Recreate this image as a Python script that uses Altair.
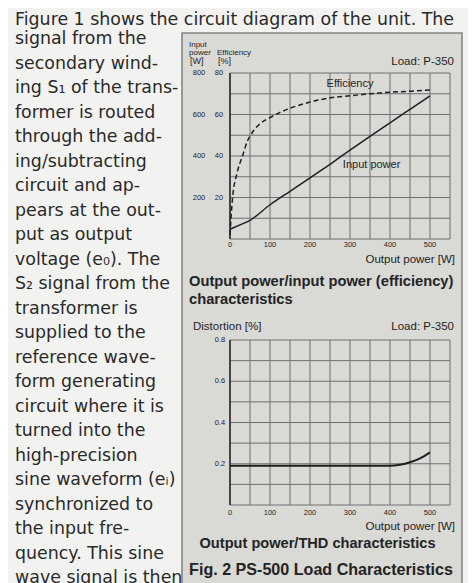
import altair as alt
import pandas as pd

# ---------------- data ----------------
# Output power / efficiency (dashed)
eff_out = [0, 6, 18, 33, 44, 50, 60, 75, 100, 125, 150, 200, 250, 300, 350, 400, 450, 500]
eff_pct = [2, 19, 32, 41, 47.5, 49.5, 52.5, 55.5, 58.5, 61, 63, 66, 68, 69, 70, 70.7, 71.2, 71.8]
# Output power / input power (solid)
in_out = [0, 25, 50, 100, 150, 200, 250, 300, 350, 400, 450, 500]
in_w = [47, 68, 90, 165, 230, 294, 360, 428, 495, 560, 625, 690]
# Output power / THD
thd_out = [0, 100, 200, 300, 400, 425, 450, 475, 500]
thd_pct = [0.19, 0.19, 0.19, 0.19, 0.19, 0.195, 0.207, 0.226, 0.255]

x_ticks = [0, 100, 200, 300, 400, 500]
x_grid = [0, 50, 100, 150, 200, 250, 300, 350, 400, 450, 500, 550]
w_ticks = [200, 400, 600, 800]
e_ticks = [20, 40, 60, 80]
w_grid = [0, 100, 200, 300, 400, 500, 600, 700, 800]
d_ticks = [0.2, 0.4, 0.6, 0.8]
d_grid = [0, 0.1, 0.2, 0.3, 0.4, 0.5, 0.6, 0.7, 0.8]

first_line = "Figure 1 shows the circuit diagram of the unit. The"
body_lines = [
    "signal from the", "secondary wind-", "ing S\u2081 of the trans-", "former is routed",
    "through the add-", "ing/subtracting", "circuit and ap-", "pears at the out-",
    "put as output", "voltage (e\u2080). The", "S\u2082 signal from the", "transformer is",
    "supplied to the", "reference wave-", "form generating", "circuit where it is",
    "turned into the", "high-precision", "sine waveform (e\u1d62)", "synchronized to",
    "the input fre-", "quency. This sine", "wave signal is then",
]

# ---------------- scales ----------------
xs = alt.Scale(domain=[0, 550], range=[222, 442], nice=False, zero=False)
y1 = alt.Scale(domain=[0, 800], range=[231, 65], nice=False, zero=False)
ye = alt.Scale(domain=[0, 80], range=[231, 65], nice=False, zero=False)
y2 = alt.Scale(domain=[0, 0.8], range=[497, 332], nice=False, zero=False)

GRID = "#6f6f6f"
INK = "#242424"
SANS = "Liberation Sans"
one = pd.DataFrame({"a": [0]})


def X(f="x"):
    return alt.X(f + ":Q", scale=xs, axis=None)


layers = []

# page box
layers.append(alt.Chart(one).mark_rect(fill="#d9d9d6", stroke="#858585", strokeWidth=1.6).encode(
    x=alt.value(174), x2=alt.value(454), y=alt.value(25), y2=alt.value(580)))

# ---- grids ----
for ysc, grid, lo, hi in [(y1, w_grid, 0, 800), (y2, d_grid, 0, 0.8)]:
    vdf = pd.DataFrame({"x": x_grid, "lo": [lo] * len(x_grid), "hi": [hi] * len(x_grid)})
    layers.append(alt.Chart(vdf).mark_rule(color=GRID, strokeWidth=1).encode(
        x=X(), y=alt.Y("lo:Q", scale=ysc, axis=None), y2="hi:Q"))
    hdf = pd.DataFrame({"y": grid, "lo": [0] * len(grid), "hi": [550] * len(grid)})
    layers.append(alt.Chart(hdf).mark_rule(color=GRID, strokeWidth=1).encode(
        y=alt.Y("y:Q", scale=ysc, axis=None), x=X("lo"), x2="hi:Q"))
    adf = pd.DataFrame({"x": [0], "lo": [lo], "hi": [hi]})
    layers.append(alt.Chart(adf).mark_rule(color="#2e2e2e", strokeWidth=1.6).encode(
        x=X(), y=alt.Y("lo:Q", scale=ysc, axis=None), y2="hi:Q"))

# ---- data lines ----
df_in = pd.DataFrame({"x": in_out, "y": in_w})
layers.append(alt.Chart(df_in).mark_line(color="#1e1e1e", strokeWidth=1.5, interpolate="monotone").encode(
    x=X(), y=alt.Y("y:Q", scale=y1, axis=None)))
df_eff = pd.DataFrame({"x": eff_out, "y": eff_pct})
layers.append(alt.Chart(df_eff).mark_line(color="#1e1e1e", strokeWidth=1.5, strokeDash=[5, 3],
                                          interpolate="monotone").encode(
    x=X(), y=alt.Y("y:Q", scale=ye, axis=None)))
df_thd = pd.DataFrame({"x": thd_out, "y": thd_pct})
layers.append(alt.Chart(df_thd).mark_line(color="#1e1e1e", strokeWidth=2, interpolate="monotone").encode(
    x=X(), y=alt.Y("y:Q", scale=y2, axis=None)))

# ---- tick labels ----
def tick_text(vals, ysc, xpix, fmt):
    d = pd.DataFrame({"y": vals, "t": [fmt(v) for v in vals]})
    return alt.Chart(d).mark_text(font=SANS, fontSize=7.5, color=INK, align="center", baseline="middle").encode(
        x=alt.value(xpix), y=alt.Y("y:Q", scale=ysc, axis=None), text="t:N")

layers.append(tick_text(w_ticks, y1, 191, lambda v: str(v)))
layers.append(tick_text(e_ticks, ye, 211, lambda v: str(v)))
layers.append(tick_text(d_ticks, y2, 212, lambda v: f"{v:.1f}"))
for ypix in [237, 505]:
    d = pd.DataFrame({"x": x_ticks, "t": [str(v) for v in x_ticks]})
    layers.append(alt.Chart(d).mark_text(font=SANS, fontSize=7.5, color=INK, align="center", baseline="middle").encode(
        x=X(), y=alt.value(ypix), text="t:N"))

# ---- in-plot labels ----
lab1 = pd.DataFrame({"x": [300, 354], "y": [731, 342], "t": ["Efficiency", "Input power"]})
layers.append(alt.Chart(lab1).mark_text(font=SANS, fontSize=11, color=INK, align="center",
                                        baseline="alphabetic").encode(
    x=X(), y=alt.Y("y:Q", scale=y1, axis=None), text="t:N"))

# ---- header / caption texts ----
def txt(s, x, y, size=11, align="left", weight="normal", font=SANS, color=INK):
    return alt.Chart(one).mark_text(text=s, font=font, fontSize=size, align=align, baseline="alphabetic",
                                    fontWeight=weight, color=color).encode(x=alt.value(x), y=alt.value(y))

layers += [
    txt("Input", 181, 39, 8), txt("power", 181, 47, 8), txt("[W]", 182, 56, 9),
    txt("Efficiency", 209, 47, 8), txt("[%]", 210, 56, 9),
    txt("Load: P-350", 446, 57, 11.5, "right"),
    txt("Output power [W]", 447, 255, 11.5, "right"),
    txt("Output power/input power (efficiency)", 181, 278, 14.7, weight="bold"),
    txt("characteristics", 181, 296, 14.7, weight="bold"),
    txt("Distortion [%]", 185, 322, 11.5),
    txt("Load: P-350", 446, 322, 11.5, "right"),
    txt("Output power [W]", 447, 522, 11.5, "right"),
    txt("Output power/THD characteristics", 309.5, 540, 14.6, "center", weight="bold"),
    txt("Fig. 2 PS-500 Load Characteristics", 313, 567, 16.1, "center", weight="bold"),
]

# ---- body text ----
layers.append(txt(first_line, 7, 17, 17.4, font="DejaVu Sans", color="#2a2a2a"))
body = pd.DataFrame({"row": list(range(1, len(body_lines) + 1)), "t": body_lines})
layers.append(alt.Chart(body).mark_text(font="DejaVu Sans", fontSize=17.4, color="#2a2a2a", align="left",
                                        baseline="alphabetic").encode(
    x=alt.value(7), y=alt.Y("row:Q", scale=alt.Scale(domain=[1, 23], range=[36, 575], nice=False, zero=False),
                            axis=None),
    text="t:N"))

chart = alt.layer(*layers).resolve_scale(x="independent", y="independent").properties(
    width=460, height=575, autosize=alt.AutoSizeParams(type="none"), padding=0,
    background="#f2f2f0").configure_view(stroke=None)

chart.save("out.html", embed_options={"renderer": "svg", "actions": False})
